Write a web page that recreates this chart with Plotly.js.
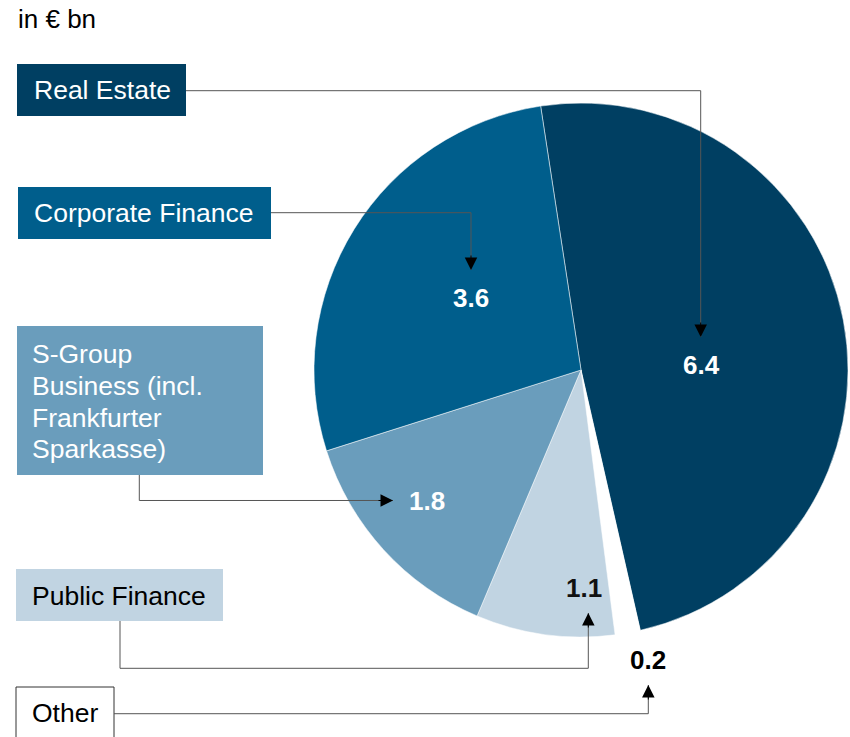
<!DOCTYPE html>
<html>
<head>
<meta charset="utf-8">
<script src="https://cdn.plot.ly/plotly-3.0.1.min.js"></script>
<style>html,body{margin:0;padding:0;background:#fff;}#chart{width:850px;height:737px;}</style>
</head>
<body>
<div id="chart"></div>
<script>
// ---- data ----
const segments = ['Real Estate', 'Other', 'Public Finance', 'S-Group Business (incl. Frankfurter Sparkasse)', 'Corporate Finance'];
const volumes = [6.4, 0.2, 1.1, 1.8, 3.6];
const sliceColors = ['#003f62', '#ffffff', '#c1d4e2', '#6a9dbc', '#005e8c'];
const boxLines = [['Real Estate'], ['Other'], ['Public Finance'], ['S-Group', 'Business (incl.', 'Frankfurter', 'Sparkasse)'], ['Corporate Finance']];
const unitLabel = 'in € bn';

// ---- layout helpers (pixels -> paper) ----
const W = 850, H = 737;
const px = x => x / W;
const py = y => 1 - y / H;
const FONT = 'Liberation Sans, Arial, sans-serif';

// box geometry per segment (same order)
const boxes = [
  {x0: 17, x1: 186, y0: 64, y1: 116, fill: '#003f62', txt: '#ffffff', line: null, tx: 32, ty: [90]},
  {x0: 16, x1: 114, y0: 687, y1: 740, fill: '#ffffff', txt: '#000000', line: '#333333', tx: 30, ty: [712.5]},
  {x0: 16, x1: 223, y0: 569, y1: 621, fill: '#c1d4e2', txt: '#000000', line: null, tx: 30, ty: [595.5]},
  {x0: 17, x1: 263, y0: 326, y1: 475, fill: '#6a9dbc', txt: '#ffffff', line: null, tx: 30, ty: [354, 386, 417.5, 449]},
  {x0: 18, x1: 271, y0: 187, y1: 239, fill: '#005e8c', txt: '#ffffff', line: null, tx: 32, ty: [212.5]}
];
// connectors: polyline points (pixels), last point is the arrow tip
const connectors = [
  [[186, 90.7], [700.7, 90.7], [700.7, 337]],
  [[114, 713.7], [648.3, 713.7], [648.3, 685]],
  [[120, 621], [120, 668.3], [588.3, 668.3], [588.3, 613]],
  [[139.3, 475], [139.3, 500.5], [393, 500.5]],
  [[271, 212.7], [471, 212.7], [471, 270]]
];
// value label positions
const valuePos = [[701, 364.5, '#ffffff'], [648, 659.5, '#000000'], [584, 588, '#111111'], [427, 501, '#ffffff'], [471, 298, '#ffffff']];

const trace = {
  type: 'pie',
  labels: segments,
  values: volumes,
  sort: false,
  direction: 'clockwise',
  rotation: -8.7,
  marker: {colors: sliceColors, line: {color: 'rgba(255,255,255,0.5)', width: 1}},
  textinfo: 'none',
  hoverinfo: 'none',
  showlegend: false,
  domain: {x: [px(314), px(848)], y: [py(637), py(103)]}
};

const shapes = [];
const annotations = [];

annotations.push({xref: 'paper', yref: 'paper', x: px(15.5), y: py(19), xanchor: 'left', yanchor: 'middle',
  text: unitLabel, showarrow: false, font: {family: FONT, size: 26, color: '#000'}});

boxes.forEach((b, i) => {
  shapes.push({type: 'rect', xref: 'paper', yref: 'paper', x0: px(b.x0), x1: px(b.x1), y0: py(b.y1), y1: py(b.y0),
    fillcolor: b.fill, line: b.line ? {color: b.line, width: 1} : {width: 0}, layer: 'above'});
  boxLines[i].forEach((t, j) => {
    annotations.push({xref: 'paper', yref: 'paper', x: px(b.tx), y: py(b.ty[j]), xanchor: 'left', yanchor: 'middle',
      text: t, showarrow: false, font: {family: FONT, size: 26.5, color: b.txt}});
  });
});

connectors.forEach(pts => {
  let d = 'M ' + pts.map(p => px(p[0]).toFixed(5) + ' ' + py(p[1]).toFixed(5)).join(' L ');
  shapes.push({type: 'path', xref: 'paper', yref: 'paper', path: d, line: {color: '#555555', width: 1}, layer: 'above'});
  const tip = pts[pts.length - 1], prev = pts[pts.length - 2];
  const dx = Math.sign(prev[0] - tip[0]) * 16, dy = Math.sign(prev[1] - tip[1]) * 16;
  annotations.push({xref: 'paper', yref: 'paper', x: px(tip[0]), y: py(tip[1]), ax: dx, ay: dy,
    text: '', showarrow: true, arrowhead: 2, arrowsize: 2.5, arrowwidth: 1, arrowcolor: '#000', standoff: 0});
});

volumes.forEach((v, i) => {
  const p = valuePos[i];
  annotations.push({xref: 'paper', yref: 'paper', x: px(p[0]), y: py(p[1]), xanchor: 'center', yanchor: 'middle',
    text: '<b>' + v.toFixed(1) + '</b>', showarrow: false, font: {family: FONT, size: 26, color: p[2]}});
});

const layout = {
  width: W, height: H,
  margin: {l: 0, r: 0, t: 0, b: 0},
  paper_bgcolor: '#ffffff',
  plot_bgcolor: '#ffffff',
  shapes: shapes,
  annotations: annotations,
  showlegend: false
};

Plotly.newPlot('chart', [trace], layout, {displayModeBar: false, staticPlot: true});
</script>
</body>
</html>
